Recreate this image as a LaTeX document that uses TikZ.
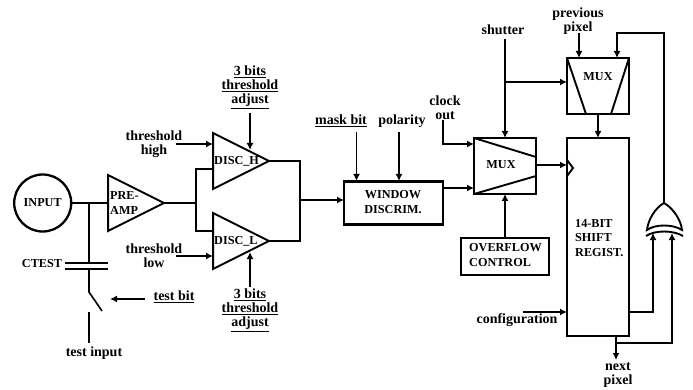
\documentclass[tikz,border=0pt]{standalone}
\usepackage{fontspec}
\setmainfont{Liberation Serif}
\usetikzlibrary{arrows.meta,positioning,shapes.geometric}
\tikzset{
  capt/.style={font=\bfseries\fontsize{14}{14}\selectfont,align=center,inner sep=0pt},
  caps/.style={font=\bfseries\fontsize{12.2}{14.5}\selectfont,align=left,inner sep=0pt},
  box/.style={draw,line width=2.3pt,rectangle,inner sep=0pt,outer sep=0pt},
  amp/.style={draw,line width=2pt,isosceles triangle,isosceles triangle stretches,shape border rotate=0,
    minimum width=56pt,minimum height=56pt,inner sep=0pt,outer sep=0pt,anchor=apex},
  wire/.style={line width=1.6pt},
  sig/.style={wire,-{Latex[length=7pt,width=7pt]}},
  plate/.style={line width=2pt},
  diag/.style={line width=1.9pt},
}
\begin{document}
\begin{tikzpicture}[x=1pt,y=-1pt]
    \useasboundingbox (0,0) rectangle (693,390);
    \node[box,circle,minimum size=57pt] (input) at (42.7,203) {};
    \node[caps] at (input) {INPUT};
    \node[amp] (preamp) at (164,203) {};
    \node[caps,anchor=west] at (110,203) {PRE-\\AMP};
    \node[amp] (disch) at (269,161) {};
    \node[caps,anchor=west] at (214,161) {DISC\_H};
    \node[amp] (discl) at (269,241) {};
    \node[caps,anchor=west] at (214,241) {DISC\_L};
    \node[box,minimum width=99pt,minimum height=43pt] (win) at (393.5,203) {};
    \node[caps,align=center] at (393,202) {WINDOW\\DISCRIM.};
    \node[box,minimum width=62pt,minimum height=56pt] (muxa) at (505,166) {};
    \node[caps] at (501,165) {MUX};
    \node[box,minimum width=62pt,minimum height=56pt] (muxb) at (598,86) {};
    \node[caps] at (598,77) {MUX};
    \node[box,minimum width=88pt,minimum height=37pt] (over) at (505,256.5) {};
    \node[caps,anchor=west] at (469,255) {OVERFLOW\\CONTROL};
    \node[box,minimum width=62pt,minimum height=198pt] (shift) at (598,237) {};
    \node[caps,anchor=west] at (575,238) {14-BIT\\SHIFT\\REGIST.};
    \node[capt] (thigh) at (154,144) {threshold\\high};
    \node[capt] (tlow) at (154,256) {threshold\\low};
    \node[capt] (adjh) at (250,87) {\underline{3 bits}\\\underline{threshold}\\\underline{adjust}};
    \node[capt] (adjl) at (250,310) {\underline{3 bits}\\\underline{threshold}\\\underline{adjust}};
    \node[caps] (ctest) at (42,264) {CTEST};
    \node[capt] (tbit) at (174,297) {\underline{test bit}};
    \node[capt] (tinput) at (94,353) {test input};
    \node[capt] (mask) at (341,121) {\underline{mask bit}};
    \node[capt] (pol) at (402,121) {polarity};
    \node[capt] (clk) at (445,108) {clock\\out};
    \node[capt] (shut) at (503,30) {shutter};
    \node[capt] (prev) at (578,21) {previous\\pixel};
    \node[capt] (conf) at (517,320) {configuration};
    \node[capt] (next) at (618,375) {next\\pixel};
    \coordinate (jin) at (89,203);
    \coordinate (jamp) at (196,203);
    \coordinate (jout) at (300,200);
    \coordinate (capa) at (89,262);
    \coordinate (capb) at (89,269);
    \coordinate (swa) at (89,292);
    \coordinate (swb) at (102,311);
    \coordinate (swc) at (89,312);
    \coordinate (swd) at (89,343);
    \coordinate (xorT) at (664,203);
    \coordinate (xorL) at (647,230);
    \coordinate (xorR) at (682,230);
    \coordinate (xorA) at (653,233);
    \coordinate (xorB) at (672,233);
    \coordinate (jshut) at (505,82);
    \draw[wire] (input.east) -- (preamp.west |- input.east);
    \draw[wire] (jin) -- (capa);
    \draw[plate] (65,262.5) -- (108,262.5);
    \draw[plate] (65,268.5) -- (108,268.5);
    \draw[wire] (capb) -- (swa) -- (swb);
    \draw[wire] (swc) -- (swd);
    \draw[sig] (145,299) -- (110,299);
    \draw[wire] (preamp.apex) -- (jamp);
    \draw[wire] (213,169) -- (196,169) -- (196,231) -- (213,231);
    \draw[sig] (176,144) -- (213,144);
    \draw[sig] (176,256) -- (213,256);
    \draw[sig] (250,113) -- (250,150);
    \draw[sig] (250,287) -- (250,252);
    \draw[wire] (disch.apex) -| (300,241) -- (discl.apex);
    \draw[sig] (jout) -- (jout -| win.west);
    \draw[sig] (356.5,132) -- (356.5,181);
    \draw[sig] (399,132) -- (399,181);
    \draw[sig] (win.east |- 0,188) -- (muxa.west |- 0,188);
    \draw[sig] (443,120) |- (muxa.west |- 0,144);
    \draw[sig] (over.north) -- (muxa.south);
    \draw[sig] (505,39) -- (muxa.north);
    \draw[sig] (jshut) -- (jshut -| muxb.west);
    \draw[diag] (muxa.north west) -- (536,157);
    \draw[diag] (muxa.south west) -- (536,176);
    \draw[diag] (muxb.north west) -- (586,114);
    \draw[diag] (muxb.north east) -- (611,114);
    \draw[sig] (579,33) -- (579,58);
    \draw[sig] (muxb.south) -- (shift.north);
    \draw[sig] (muxa.east |- 0,165) -- (shift.west |- 0,165);
    \draw[diag] (567,160) -- (573,168) -- (567,176);
    \draw[sig] (523,312) -- (shift.west |- 0,312);
    \draw[sig] (shift.south -| 616,0) -- (616,360);
    \draw[sig] (shift.east |- 0,312) -| (xorA);
    \draw[sig] (616,343) -| (xorB);
    \draw[sig] (xorT) -- (664,33) -- (617,33) -- (617,58);
    \draw[diag] (xorT) .. controls (655,208) and (648,220) .. (xorL)
      .. controls (655,224) and (673,224) .. (xorR)
      .. controls (681,220) and (673,208) .. (xorT);
    \draw[diag] (646,236) .. controls (655,230) and (673,230) .. (683,236);
  \end{tikzpicture}
\end{document}
